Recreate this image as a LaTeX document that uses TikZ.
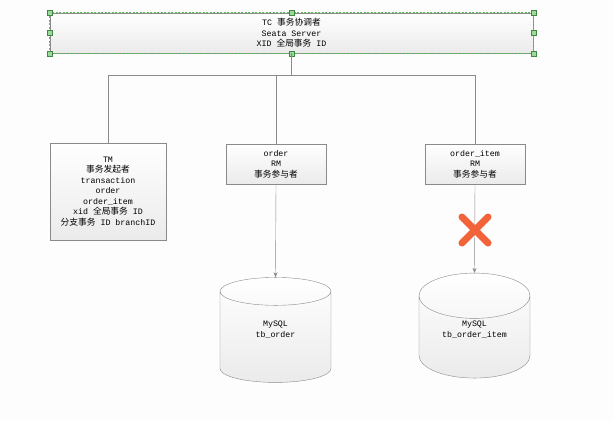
\documentclass[tikz,border=0pt]{standalone}
\usepackage{fontspec}
\setmainfont{Liberation Mono}
\newfontfamily\cjk[Scale=1.05]{Noto Sans CJK SC}
\usetikzlibrary{shapes.geometric,shadows,arrows.meta}
\definecolor{bg}{HTML}{FDFDFD}
\definecolor{edge}{HTML}{8A8A8A}
\definecolor{cross}{HTML}{F2633A}
\definecolor{sel}{HTML}{5CBF5C}
\begin{document}
\begin{tikzpicture}[x=1pt,y=-1pt,>={Stealth[length=5pt,width=4pt]},
    every node/.style={font=\fontsize{8.3}{10.5}\selectfont,align=center},
    box/.style={draw=edge,top color=white,bottom color=gray!16,
      drop shadow={opacity=0.12,shadow xshift=1pt,shadow yshift=-1pt}},
    db/.style={cylinder,shape border rotate=90,aspect=0.7,draw=edge,
      top color=white,bottom color=gray!16,minimum width=111pt,minimum height=105pt,inner sep=0pt},
    link/.style={draw=edge,thin}]
  \fill[bg] (0,0) rectangle (613,421);
  \useasboundingbox (0,0) rectangle (613,421);
  % coordinator
  \node[box,minimum width=483pt,minimum height=40pt] (tc) at (291.5,33)
    {TC {\cjk 事务协调者}\\Seata Server\\XID {\cjk 全局事务} ID};
  \draw[sel,line width=0.7pt,dash pattern=on 2pt off 1.5pt] (tc.north west) rectangle (tc.south east);
  \foreach \a in {north west,north,north east,west,east,south west,south,south east}
    \draw[sel!70!black,fill=sel!60!white] (tc.\a) ++(-2.5,-2.5) rectangle ++(5,5);
  % branches
  \node[box,minimum width=116pt,minimum height=97pt] (tm) at (108,191.5)
    {TM\\{\cjk 事务发起者}\\transaction\\order\\order\_item\\xid {\cjk 全局事务} ID\\{\cjk 分支事务} ID branchID};
  \node[box,minimum width=100pt,minimum height=40pt] (ord) at (276,164)
    {order\\RM\\{\cjk 事务参与者}};
  \node[box,minimum width=100pt,minimum height=40pt] (item) at (475,164)
    {order\_item\\RM\\{\cjk 事务参与者}};
  \coordinate (bus) at (291.5,75);
  \draw[link] (tc.south) -- (bus);
  \draw[link] (tm.north) |- (bus -| item.north) -- (item.north);
  \draw[link] (ord.north) -- (ord.north |- bus);
  % databases
  \node[db] (dbord) at (275.5,337) {MySQL\\tb\_order\\[5pt]\mbox{}};
  \node[db] (dbitem) at (474.5,337) {MySQL\\tb\_order\_item\\[5pt]\mbox{}};
  \draw[link,->] (ord.south) -- (dbord.top);
  \draw[link,->] (item.south) -- (dbitem.top);
  % failed branch
  \draw[cross,line width=7pt,line cap=round] (462,217) -- (488,243) (488,217) -- (462,243);
\end{tikzpicture}
\end{document}
